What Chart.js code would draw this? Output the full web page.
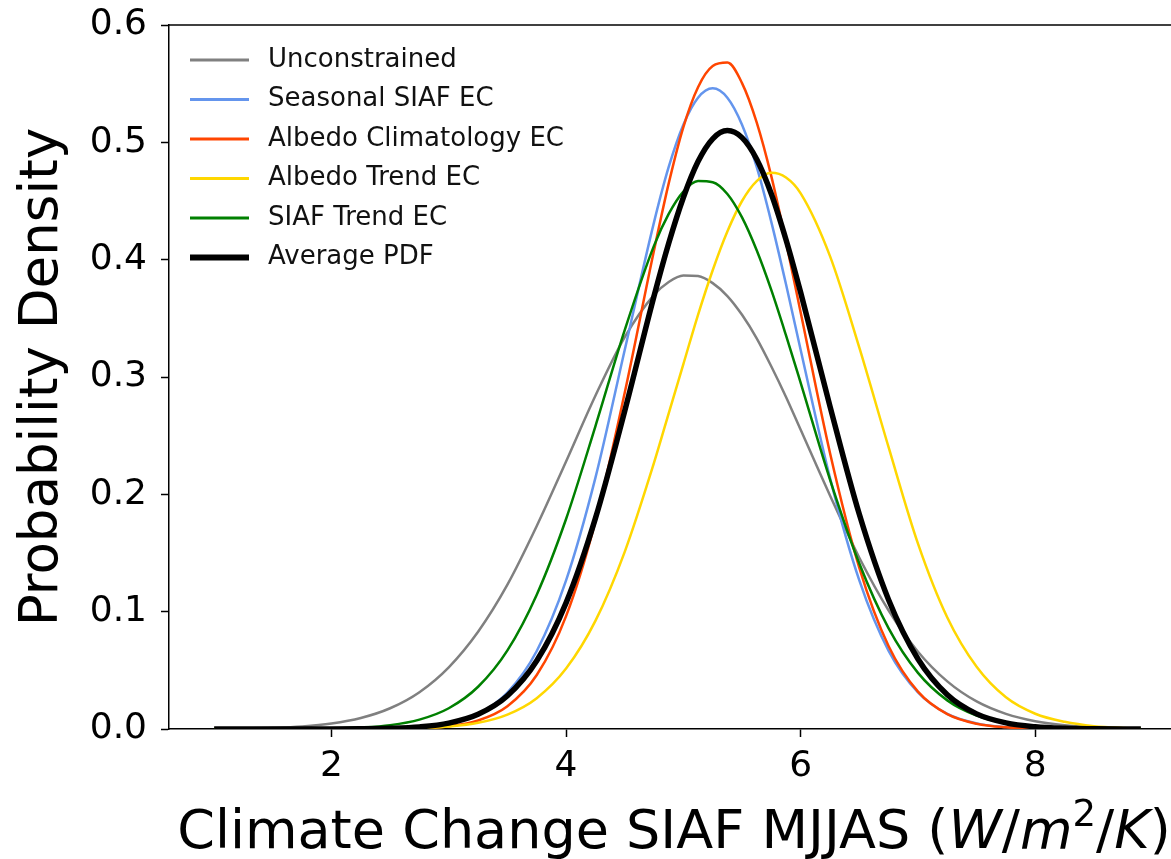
<!DOCTYPE html>
<html>
  <body style="margin: 0; background: #fff">
    <canvas id="pdfChart" width="1171" height="859"></canvas>

    <script src="https://cdn.jsdelivr.net/npm/chart.js"></script>

    <script>
      // values
      const xValues = [1.0, 1.25, 1.5, 1.75, 2.0, 2.25, 2.5, 2.75, 3.0, 3.25, 3.5, 3.75, 4.0, 4.25, 4.5, 4.75,
        4.875, 5.0, 5.125, 5.25, 5.375, 5.5, 5.625, 5.75, 5.875, 6.0, 6.25, 6.5, 6.75, 7.0, 7.25, 7.5, 7.75,
        8.0, 8.25, 8.5, 8.75, 8.9];

      const unconstrained = [0.0001, 0.0004, 0.001, 0.0022, 0.0047, 0.0094, 0.0177, 0.0314, 0.0526, 0.0829, 0.123,
        0.173, 0.228, 0.284, 0.334, 0.37, 0.381, 0.3865, 0.386, 0.38, 0.369, 0.353, 0.333, 0.309, 0.283, 0.255,
        0.199, 0.146, 0.101, 0.0659, 0.0406, 0.0235, 0.0129, 0.0066, 0.0032, 0.0015, 0.0006, 0.0004];
      const seasonalSiaf = [0, 0, 0, 0, 0, 0.0001, 0.0005, 0.0016, 0.0048, 0.0129, 0.0311, 0.0665, 0.1266, 0.214,
        0.323, 0.432, 0.479, 0.515, 0.538, 0.546, 0.538, 0.515, 0.479, 0.432, 0.379, 0.323, 0.214, 0.1266,
        0.0665, 0.0311, 0.0129, 0.0048, 0.0016, 0.0005, 0.0001, 0, 0, 0];
      const albedoClim = [0, 0, 0, 0, 0, 0, 0.0002, 0.0007, 0.0023, 0.0072, 0.0194, 0.046, 0.0962, 0.177, 0.2865,
        0.408, 0.465, 0.513, 0.547, 0.565, 0.568, 0.5505, 0.517, 0.471, 0.415, 0.355, 0.2353, 0.1374, 0.0706,
        0.0319, 0.0127, 0.0045, 0.0014, 0.0004, 0.0001, 0, 0, 0];
      const albedoTrend = [0, 0, 0, 0, 0, 0.0001, 0.0002, 0.0007, 0.0021, 0.0053, 0.0123, 0.0263, 0.0515, 0.0921,
        0.151, 0.227, 0.269, 0.311, 0.353, 0.391, 0.424, 0.45, 0.467, 0.474, 0.47, 0.4565, 0.403, 0.325, 0.24,
        0.158, 0.095, 0.053, 0.027, 0.013, 0.0061, 0.0024, 0.0009, 0.0005];
      const siafTrend = [0, 0, 0, 0.0001, 0.0004, 0.0013, 0.0033, 0.008, 0.0177, 0.036, 0.067, 0.1145, 0.179, 0.258,
        0.34, 0.412, 0.439, 0.458, 0.467, 0.466, 0.456, 0.436, 0.408, 0.374, 0.3355, 0.295, 0.2126, 0.141,
        0.0857, 0.0478, 0.0244, 0.0115, 0.005, 0.002, 0.0007, 0.0002, 0.0001, 0];
      const averagePdf = [0, 0, 0, 0, 0, 0.0002, 0.0006, 0.0018, 0.005, 0.0125, 0.0283, 0.0581, 0.1075, 0.1795,
        0.271, 0.369, 0.414, 0.453, 0.4836, 0.503, 0.51, 0.504, 0.4856, 0.456, 0.417, 0.372, 0.275, 0.183, 0.11,
        0.0597, 0.0292, 0.0129, 0.0052, 0.0019, 0.0006, 0.0002, 0, 0];

      const seriesLabels = ["Unconstrained", "Seasonal SIAF EC", "Albedo Climatology EC", "Albedo Trend EC",
        "SIAF Trend EC", "Average PDF"];
      const seriesValues = [unconstrained, seasonalSiaf, albedoClim, albedoTrend, siafTrend, averagePdf];
      const seriesColors = ["#808080", "#6495ed", "#ff4500", "#ffd700", "#008000", "#000000"];
      const seriesWidths = [2.5, 2.5, 2.5, 2.5, 2.5, 5.5];

      const xTicks = [2, 4, 6, 8];
      const yTicks = [0, 0.1, 0.2, 0.3, 0.4, 0.5, 0.6];

      const FONT = "DejaVu Sans";

      const datasets = seriesLabels.map((label, i) => ({
        label: label,
        data: xValues.map((x, j) => ({ x: x, y: seriesValues[i][j] })),
        borderColor: seriesColors[i],
        borderWidth: seriesWidths[i],
        pointRadius: 0,
        cubicInterpolationMode: "monotone",
        fill: false,
        order: seriesLabels.length - 1 - i,
      }));

      // legend drawn inside the axes, no frame
      const insideLegend = {
        id: "insideLegend",
        afterDraw(chart) {
          const { ctx, chartArea } = chart;
          ctx.save();
          ctx.font = "26px '" + FONT + "'";
          ctx.textBaseline = "middle";
          chart.data.datasets.forEach((ds, i) => {
            const y = chartArea.top + 35 + i * 39.5;
            const x0 = chartArea.left + 21;
            ctx.strokeStyle = ds.borderColor;
            ctx.lineWidth = ds.borderWidth === 5.5 ? 6 : 3;
            ctx.beginPath();
            ctx.moveTo(x0, y);
            ctx.lineTo(x0 + 59, y);
            ctx.stroke();
            ctx.fillStyle = "#111";
            ctx.fillText(ds.label, x0 + 78, y);
          });
          ctx.restore();
        },
      };

      // top spine + x label with math-style units
      const frameAndXTitle = {
        id: "frameAndXTitle",
        afterDraw(chart) {
          const { ctx, chartArea } = chart;
          ctx.save();
          ctx.strokeStyle = "#000";
          ctx.lineWidth = 1.5;
          ctx.beginPath();
          ctx.moveTo(chartArea.left, chartArea.top);
          ctx.lineTo(chartArea.right, chartArea.top);
          ctx.stroke();

          const parts = [
            ["Climate Change SIAF MJJAS (", "", 54, 0],
            ["W", "italic ", 54, 0],
            ["/", "", 54, 0],
            ["m", "italic ", 54, 0],
            ["2", "", 37, -22],
            ["/", "", 54, 0],
            ["K", "italic ", 54, 0],
            [")", "", 54, 0],
          ];
          let total = 0;
          parts.forEach((p) => {
            ctx.font = p[1] + p[2] + "px '" + FONT + "'";
            p.push(ctx.measureText(p[0]).width);
            total += p[4];
          });
          let x = 674 - total / 2;
          ctx.fillStyle = "#000";
          ctx.textBaseline = "alphabetic";
          parts.forEach((p) => {
            ctx.font = p[1] + p[2] + "px '" + FONT + "'";
            ctx.fillText(p[0], x, 848 + p[3]);
            x += p[4];
          });
          ctx.restore();
        },
      };

      const ctx = document.getElementById("pdfChart");

      new Chart(ctx, {
        type: "line",
        data: { datasets: datasets },
        options: {
          responsive: false,
          animation: false,
          layout: { padding: { top: 25, left: 0, right: 0, bottom: 0 } },
          plugins: {
            legend: { display: false },
            tooltip: { enabled: false },
          },
          scales: {
            x: {
              type: "linear",
              min: 0.615,
              max: 9.157,
              afterFit: (scale) => {
                scale.height = 130;
              },
              afterBuildTicks: (scale) => {
                scale.ticks = xTicks.map((v) => ({ value: v }));
              },
              ticks: {
                color: "#000",
                padding: 8,
                font: { family: FONT, size: 36 },
                callback: (v) => String(v),
              },
              grid: {
                drawOnChartArea: false,
                drawTicks: true,
                tickLength: 8,
                tickWidth: 1.5,
                tickColor: "#000",
              },
              border: { color: "#000", width: 1.5 },
            },
            y: {
              type: "linear",
              min: 0,
              max: 0.6,
              afterFit: (scale) => {
                scale.width = 169;
              },
              afterBuildTicks: (scale) => {
                scale.ticks = yTicks.map((v) => ({ value: v }));
              },
              ticks: {
                color: "#000",
                padding: 14,
                font: { family: FONT, size: 36, lineHeight: 0.6 },
                callback: (v) => Number(v).toFixed(1),
              },
              grid: {
                drawOnChartArea: false,
                drawTicks: true,
                tickLength: 8,
                tickWidth: 1.5,
                tickColor: "#000",
              },
              border: { color: "#000", width: 1.5 },
              title: {
                display: true,
                text: "Probability Density",
                color: "#000",
                font: { family: FONT, size: 53 },
                padding: { top: 11, bottom: 0 },
              },
            },
          },
        },
        plugins: [insideLegend, frameAndXTitle],
      });
    </script>
  </body>
</html>
